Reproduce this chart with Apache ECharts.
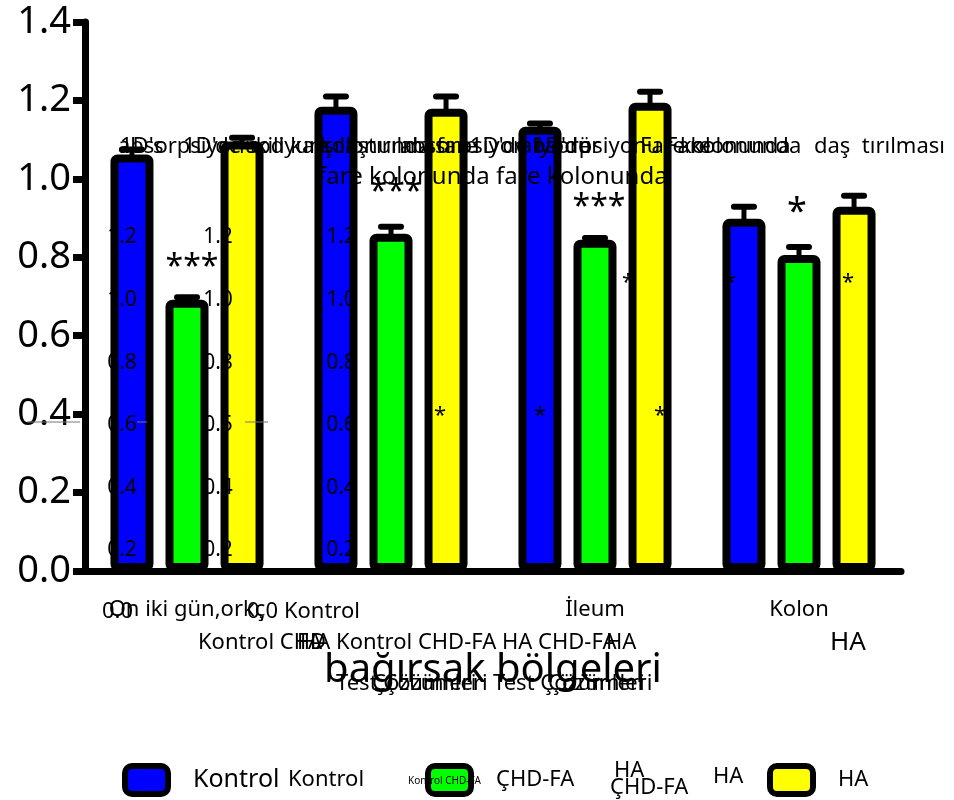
<!DOCTYPE html>
<html>
<head>
<meta charset="utf-8">
<script src="https://cdn.jsdelivr.net/npm/echarts@6/dist/echarts.min.js"></script>
<style>
  html, body { margin: 0; padding: 0; background: #fff; }
  #chart { width: 954px; height: 800px; }
</style>
</head>
<body>
<div id="chart"></div>
<script>
// Intestinal regions on the category axis
const categories = ['On iki gün,orkç', '', 'İleum', 'Kolon'];

// Group means and error (SEM) per region
const kontrol    = [1.062, 1.184, 1.133, 0.898];
const kontrolErr = [0.013, 0.026, 0.008, 0.031];
const chdfa      = [0.692, 0.860, 0.845, 0.806];
const chdfaErr   = [0.006, 0.018, 0.004, 0.020];
const ha         = [1.095, 1.179, 1.194, 0.929];
const haErr      = [0.010, 0.031, 0.028, 0.028];

// Secondary tick label columns printed inside the plot
const innerTicksA = ['1.2', '1.0', '0.8', '0.6', '0.4', '0.2'];
const innerTicksB = ['1.2', '1.0', '0.8', '0.5', '0.4', '0.2'];

const FONT = '"Noto Sans", "Open Sans", sans-serif';
const BAR_W = 43;
const BAR_GAP = 0.28;
const BAR_STEP = BAR_W * (1 + BAR_GAP);

function barSeries(name, values, color) {
  return {
    type: 'bar',
    name: name,
    data: values,
    barWidth: BAR_W,
    barGap: (BAR_GAP * 100) + '%',
    itemStyle: { color: color, borderColor: '#000', borderWidth: 8, borderRadius: 3 },
    z: 2
  };
}

function errorSeries(name, values, errs, slot) {
  return {
    type: 'custom',
    name: name,
    data: values.map((v, i) => [i, v, errs[i]]),
    encode: { x: 0, y: 1 },
    z: 3,
    renderItem: function (params, api) {
      const c = api.value(0), v = api.value(1), e = api.value(2);
      const base = api.coord([c, v]);
      const top = api.coord([c, v + e]);
      const x = base[0] + (slot - 1) * BAR_STEP;
      return {
        type: 'group',
        children: [
          { type: 'line', shape: { x1: x, y1: base[1] + 2, x2: x, y2: top[1] },
            style: { stroke: '#000', lineWidth: 5 } },
          { type: 'line', shape: { x1: x - 10, y1: top[1], x2: x + 10, y2: top[1] },
            style: { stroke: '#000', lineWidth: 6, lineCap: 'round' } }
        ]
      };
    }
  };
}

function txt(text, x, y, size, align, extra) {
  return Object.assign({
    type: 'text', x: x, y: y, z: 10,
    style: { text: text, fontSize: size, fontFamily: FONT, fill: '#000',
             align: align || 'left', verticalAlign: 'middle' }
  }, extra || {});
}

const graphics = [];

// overlapping title lines
[
  ['absorpsiyonu', 118], ["1D's", 120], ["1D'de sodyum", 183], ['ikili karşılaştırılması', 250],
  ['kolonunda fare', 320], ["absorpsiyon 1D'de", 400], ["1D'de iyodür", 470],
  ['absorpsiyonu Fare', 520], ['Fare kolonunda', 640], ['kolonunda', 680]
].forEach(t => graphics.push(txt(t[0], t[1], 147, 22)));
graphics.push(txt('daş  tırılması', 945, 147, 22, 'right'));
graphics.push(txt('fare kolonunda fare kolonunda', 318, 177, 24));

// inner tick label columns
const rowsY = [237, 300, 363, 425, 488, 550];
innerTicksA.forEach((t, i) => graphics.push(txt(t, 122, rowsY[i], 21, 'center')));
innerTicksB.forEach((t, i) => graphics.push(txt(t, 218, rowsY[i], 21, 'center')));
innerTicksA.forEach((t, i) => graphics.push(txt(t, 341, rowsY[i], 21, 'center')));

// significance marks
graphics.push(txt('***', 192, 268, 32, 'center'));
graphics.push(txt('***', 396, 193, 32, 'center'));
graphics.push(txt('***', 599, 208, 32, 'center'));
graphics.push(txt('*', 797, 213, 36, 'center'));
[[440, 416], [540, 416], [660, 416], [628, 283], [730, 283], [848, 283]]
  .forEach(p => graphics.push(txt('*', p[0], p[1], 22, 'center')));

// faint rules near 0.4
[[27, 80], [137, 147], [245, 268]].forEach(s => graphics.push({
  type: 'line', z: 10, shape: { x1: s[0], y1: 422, x2: s[1], y2: 422 },
  style: { stroke: '#777', lineWidth: 1 }
}));

// overlapping axis texts
graphics.push(txt('0.0', 102, 612, 22));
graphics.push(txt('0,0 Kontrol', 360, 612, 22, 'right'));
graphics.push(txt('Kontrol CHD', 198, 643, 22));
graphics.push(txt('FA', 297, 643, 22));
graphics.push(txt('HA Kontrol CHD-FA HA CHD-FA', 300, 643, 22));
graphics.push(txt('HA', 606, 643, 22));
graphics.push(txt('HA', 848, 643, 26, 'center'));
graphics.push(txt('Test Çözümleri', 336, 684, 22));
graphics.push(txt('Çözümleri', 372, 684, 22));
graphics.push(txt('Test Çözümleri', 493, 684, 22));
graphics.push(txt('Çözümleri', 548, 684, 22));

// extra legend texts
graphics.push(txt('Kontrol', 288, 780, 22));
graphics.push(txt('Kontrol CHD-FA', 408, 781, 10));
graphics.push(txt('HA', 614, 771, 22));
graphics.push(txt('ÇHD-FA', 610, 788, 22));
graphics.push(txt('HA', 713, 777, 22));

function legendFor(name, left, size) {
  return {
    data: [name], left: left, top: 758, orient: 'horizontal',
    itemWidth: 43, itemHeight: 28, icon: 'roundRect', selectedMode: false,
    itemStyle: { borderColor: '#000', borderWidth: 6 },
    textStyle: { fontSize: size, fontFamily: FONT, color: '#000', padding: [0, 0, 0, 20] }
  };
}

const chart = echarts.init(document.getElementById('chart'), null, { renderer: 'canvas' });
chart.setOption({
  backgroundColor: '#fff',
  animation: false,
  grid: { left: 85, right: 53, top: 22, bottom: 229, containLabel: false },
  xAxis: {
    type: 'category',
    data: categories,
    boundaryGap: true,
    name: 'bağırsak bölgeleri',
    nameLocation: 'middle',
    nameGap: 80,
    nameTextStyle: { fontSize: 40, fontFamily: FONT, color: '#000' },
    axisLine: { lineStyle: { color: '#000', width: 7 } },
    axisTick: { alignWithLabel: true, length: 12, lineStyle: { color: '#000', width: 7 } },
    axisLabel: { fontSize: 22, fontFamily: FONT, color: '#000', margin: 28, interval: 0 }
  },
  yAxis: {
    type: 'value',
    min: 0, max: 1.4, interval: 0.2,
    splitLine: { show: false },
    axisLine: { show: true, lineStyle: { color: '#000', width: 7 } },
    axisTick: { show: true, length: 12, lineStyle: { color: '#000', width: 7 } },
    axisLabel: { fontSize: 38, fontFamily: FONT, color: '#000', margin: 14,
                 formatter: v => v.toFixed(1) }
  },
  legend: [
    legendFor('Kontrol', 117, 25),
    legendFor('ÇHD-FA', 420, 22),
    legendFor('HA', 762, 22)
  ],
  series: [
    barSeries('Kontrol', kontrol, '#0000ff'),
    barSeries('ÇHD-FA', chdfa, '#00ff00'),
    barSeries('HA', ha, '#ffff00'),
    errorSeries('Kontrol SEM', kontrol, kontrolErr, 0),
    errorSeries('ÇHD-FA SEM', chdfa, chdfaErr, 1),
    errorSeries('HA SEM', ha, haErr, 2)
  ],
  graphic: graphics
});
</script>
</body>
</html>
